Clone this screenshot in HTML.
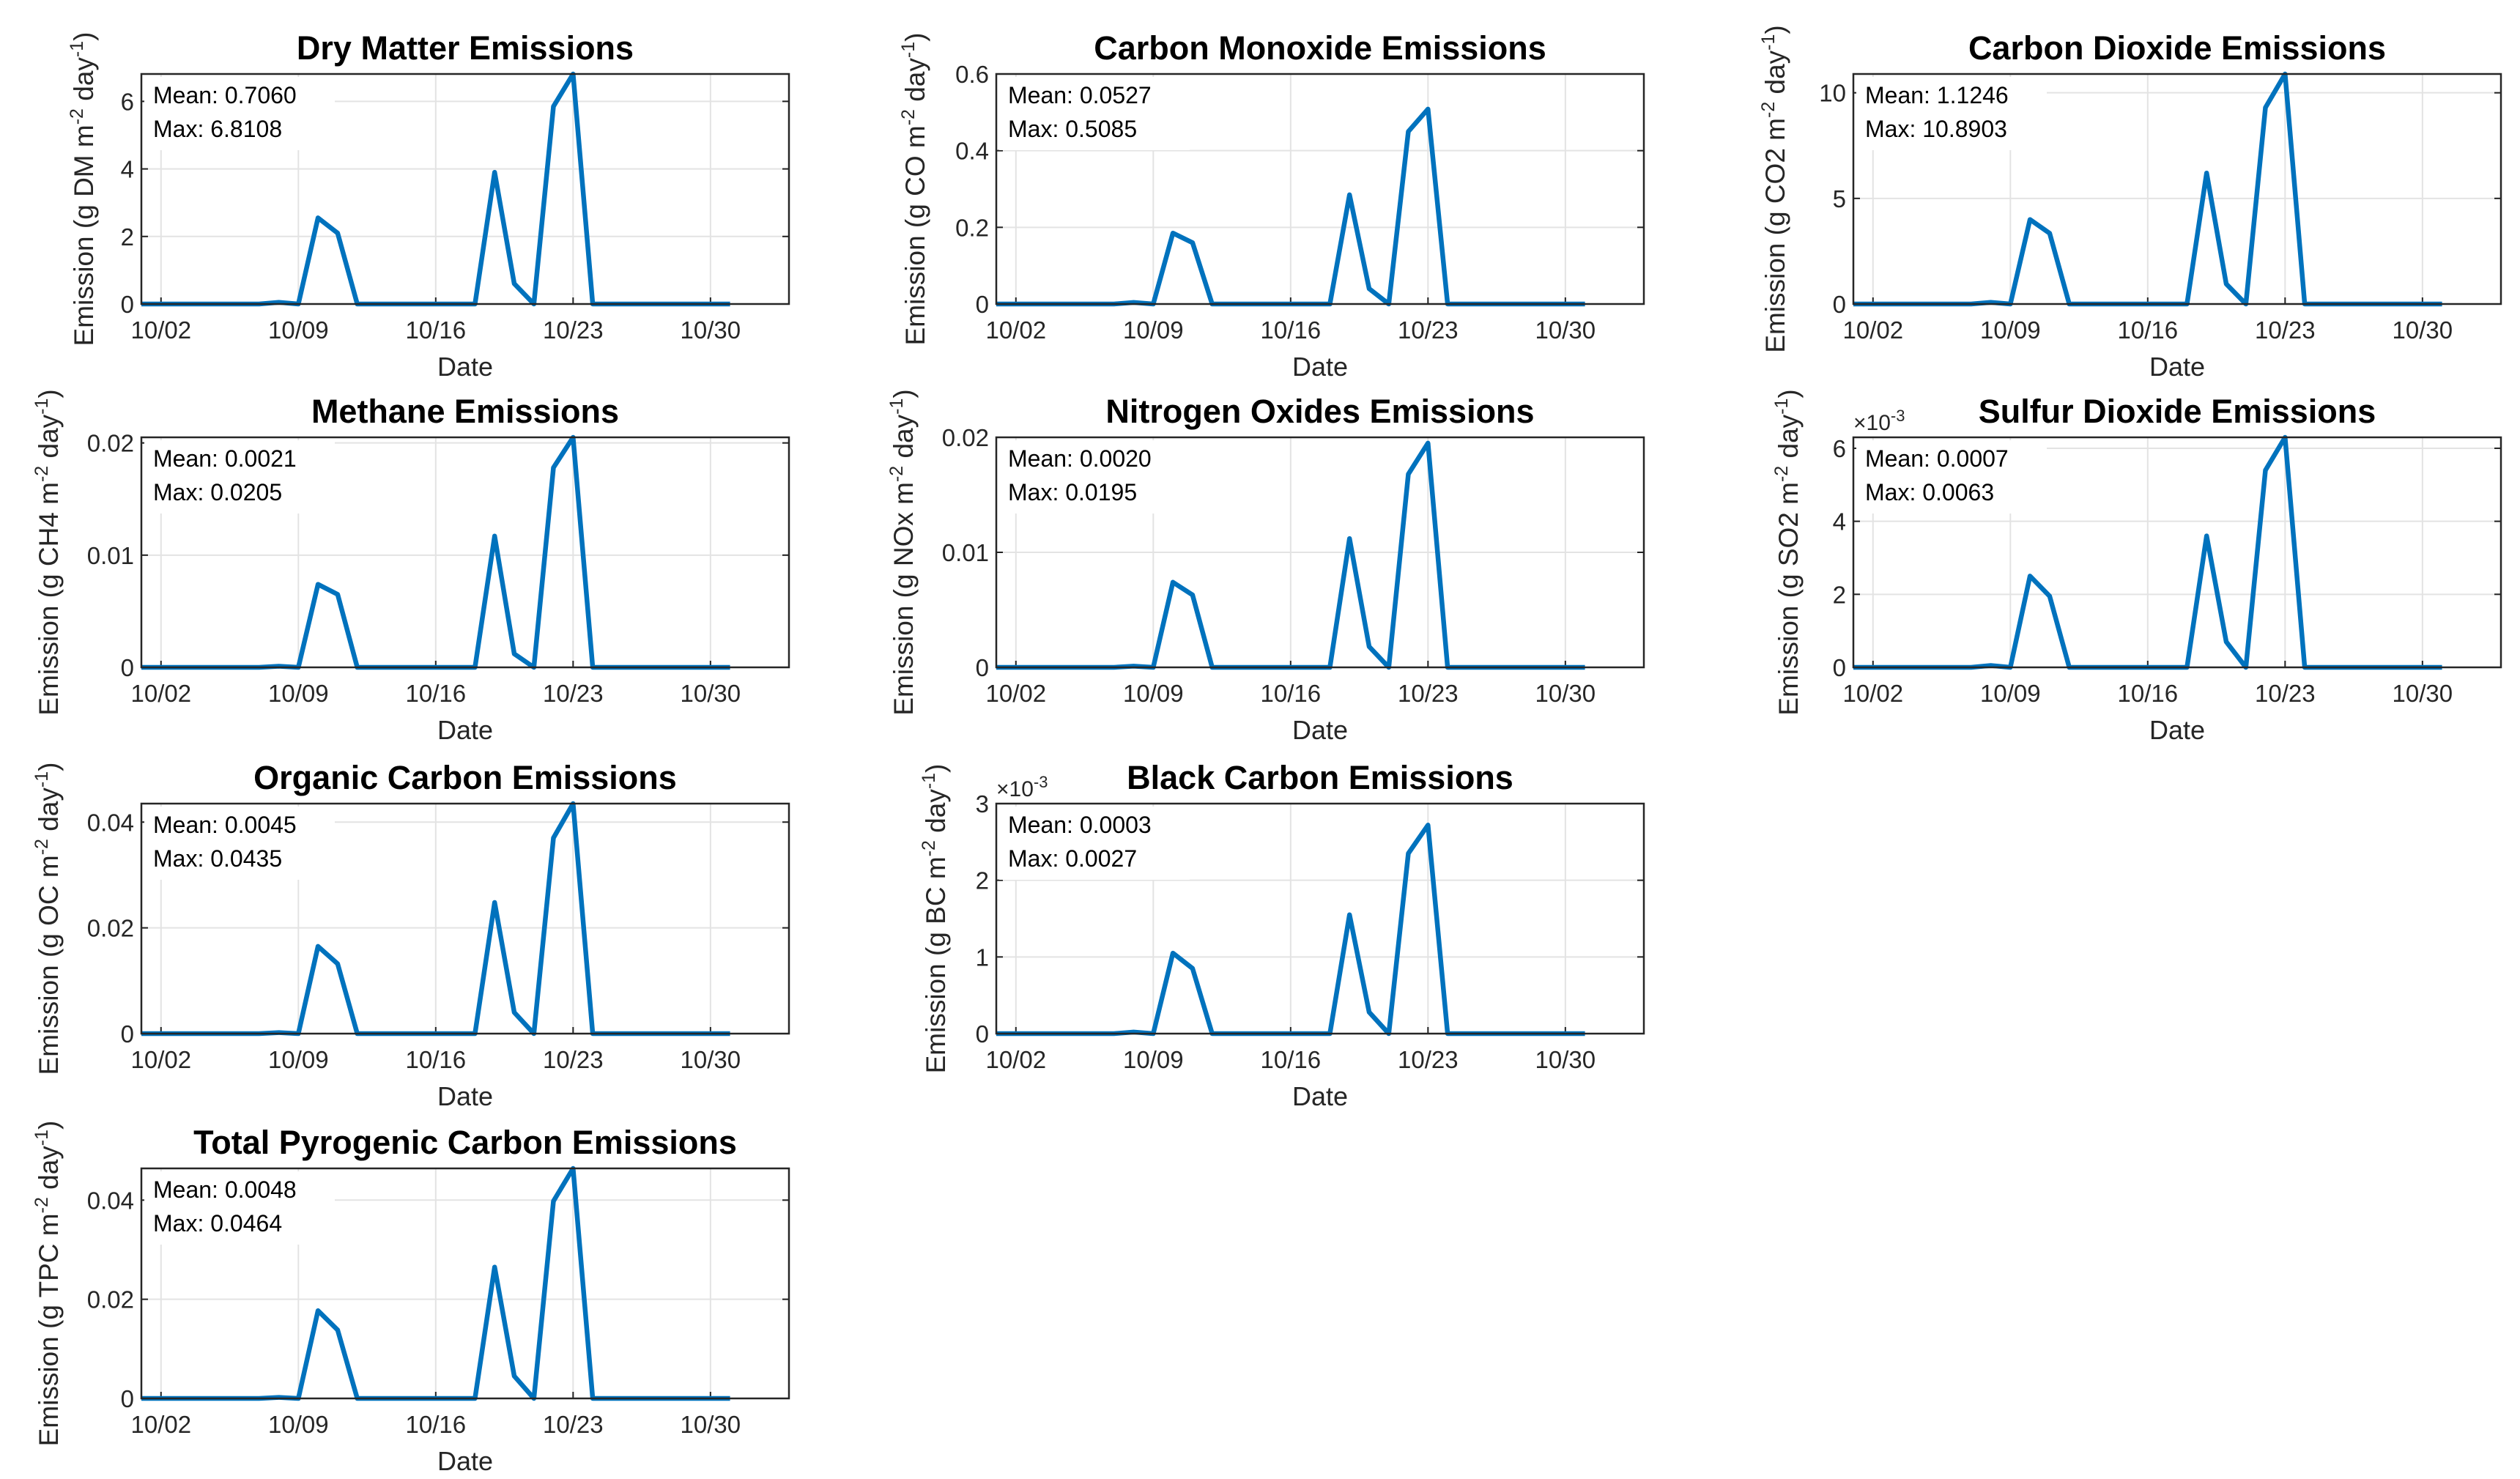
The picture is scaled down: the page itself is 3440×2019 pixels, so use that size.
<!DOCTYPE html>
<html><head><meta charset="utf-8"><style>
html,body{margin:0;padding:0;background:#fff;}
svg{display:block;font-family:"Liberation Sans",Arial,sans-serif;}
</style></head><body>
<svg id="fig" width="3440" height="2019" viewBox="0 0 3440 2019" xmlns="http://www.w3.org/2000/svg"></svg>
<script>
// ---- data (daily values Oct 1 .. Oct 31) ----
const days = Array.from({length:31},(_,i)=>i+1);
const xTickDays = [2,9,16,23,30];
const xTickLabels = ["10/02","10/09","10/16","10/23","10/30"];
const titles = ["Dry Matter Emissions","Carbon Monoxide Emissions","Carbon Dioxide Emissions","Methane Emissions","Nitrogen Oxides Emissions","Sulfur Dioxide Emissions","Organic Carbon Emissions","Black Carbon Emissions","Total Pyrogenic Carbon Emissions"];
const species = ["DM","CO","CO2","CH4","NOx","SO2","OC","BC","TPC"];
const meanLabels = ["0.7060","0.0527","1.1246","0.0021","0.0020","0.0007","0.0045","0.0003","0.0048"];
const maxLabels = ["6.8108","0.5085","10.8903","0.0205","0.0195","0.0063","0.0435","0.0027","0.0464"];
const z6=[0,0,0,0,0,0,0];
const dmVals  = [...z6,0.05,0,2.55,2.1,0,0,0,0,0,0,0,3.9,0.6,0,5.85,6.81,0,0,0,0,0,0,0,0];
const coVals  = [...z6,0.004,0,0.185,0.16,0,0,0,0,0,0,0,0.285,0.04,0,0.45,0.5085,0,0,0,0,0,0,0,0];
const co2Vals = [...z6,0.08,0,4.0,3.35,0,0,0,0,0,0,0,6.2,0.95,0,9.3,10.89,0,0,0,0,0,0,0,0];
const ch4Vals = [...z6,0.0001,0,0.0074,0.0065,0,0,0,0,0,0,0,0.0117,0.0012,0,0.0178,0.0205,0,0,0,0,0,0,0,0];
const noxVals = [...z6,0.0001,0,0.0074,0.0063,0,0,0,0,0,0,0,0.0112,0.0018,0,0.0168,0.0195,0,0,0,0,0,0,0,0];
const so2Vals = [...z6,0.05,0,2.5,1.95,0,0,0,0,0,0,0,3.6,0.7,0,5.4,6.3,0,0,0,0,0,0,0,0];
const ocVals  = [...z6,0.0002,0,0.0165,0.0132,0,0,0,0,0,0,0,0.0248,0.004,0,0.037,0.0435,0,0,0,0,0,0,0,0];
const bcVals  = [...z6,0.02,0,1.05,0.85,0,0,0,0,0,0,0,1.55,0.28,0,2.35,2.72,0,0,0,0,0,0,0,0];
const tpcVals = [...z6,0.0002,0,0.0177,0.0138,0,0,0,0,0,0,0,0.0265,0.0045,0,0.0398,0.0464,0,0,0,0,0,0,0,0];
const series = [dmVals,coVals,co2Vals,ch4Vals,noxVals,so2Vals,ocVals,bcVals,tpcVals];
const yMax = [6.8108,0.6,10.8903,0.0205,0.02,6.3,0.0435,3,0.0464];
const yTicks = [[0,2,4,6],[0,0.2,0.4,0.6],[0,5,10],[0,0.01,0.02],[0,0.01,0.02],[0,2,4,6],[0,0.02,0.04],[0,1,2,3],[0,0.02,0.04]];
const yTickLabels = [["0","2","4","6"],["0","0.2","0.4","0.6"],["0","5","10"],["0","0.01","0.02"],["0","0.01","0.02"],["0","2","4","6"],["0","0.02","0.04"],["0","1","2","3"],["0","0.02","0.04"]];
const exponent = [null,null,null,null,null,"-3",null,"-3",null];

// ---- layout ----
const colX=[193,1360,2530], AW=884, AH=314;
const rowY=[101,597,1097,1595];
const gridPos=[[0,0],[1,0],[2,0],[0,1],[1,1],[2,1],[0,2],[1,2],[0,3]];
const yLabOff=[66,98,94,114,114,76,114,70,114];
const NS="http://www.w3.org/2000/svg";
const svg=document.getElementById('fig');
function el(tag,attrs,parent){const e=document.createElementNS(NS,tag);for(const k in attrs)e.setAttribute(k,attrs[k]);(parent||svg).appendChild(e);return e;}

series.forEach((vals,i)=>{
  const x0=colX[gridPos[i][0]], y0=rowY[gridPos[i][1]];
  const g=el('g',{});
  
  
  const xs=d=>x0+(d-1)/33*AW;
  const ys=v=>y0+AH-v/yMax[i]*AH;
  el('rect',{x:x0,y:y0,width:AW,height:AH,fill:'#fff'},g);
  xTickDays.forEach((d,k)=>{
    const gl=el('line',{x1:xs(d),x2:xs(d),y1:y0,y2:y0+AH,stroke:'#e3e3e3','stroke-width':2},g);
    
    
    el('line',{x1:xs(d),x2:xs(d),y1:y0+AH,y2:y0+AH-9,stroke:'#222','stroke-width':2},g);
    const t=el('text',{x:xs(d),y:y0+AH+47,'font-size':33,'text-anchor':'middle',fill:'#262626'},g);
    t.textContent=xTickLabels[k];
    
    
  });
  yTicks[i].forEach((v,k)=>{
    const gl=el('line',{x1:x0,x2:x0+AW,y1:ys(v),y2:ys(v),stroke:'#e3e3e3','stroke-width':2},g);
    
    
    el('line',{x1:x0,x2:x0+9,y1:ys(v),y2:ys(v),stroke:'#222','stroke-width':2},g);
    el('line',{x1:x0+AW,x2:x0+AW-9,y1:ys(v),y2:ys(v),stroke:'#222','stroke-width':2},g);
    const t=el('text',{x:x0-10,y:ys(v)+12,'font-size':33,'text-anchor':'end',fill:'#262626'},g);
    t.textContent=yTickLabels[i][k];
    
    
  });
  el('rect',{x:x0+4,y:y0+4,width:260,height:100,fill:'#fff'},g);
  const m=el('text',{x:x0+16,y:y0+40,'font-size':32,fill:'#000'},g);
  m.textContent='Mean: '+meanLabels[i];
  
  
  const mx=el('text',{x:x0+16,y:y0+86,'font-size':32,fill:'#000'},g);
  mx.textContent='Max: '+maxLabels[i];
  
  
  const pts=vals.map((v,k)=>xs(days[k]).toFixed(1)+','+ys(v).toFixed(1)).join(' ');
  const pl=el('polyline',{points:pts,fill:'none',stroke:'#0072BD','stroke-width':6.5,'stroke-linejoin':'round'},g);
  
  
  el('rect',{x:x0,y:y0,width:AW,height:AH,fill:'none',stroke:'#262626','stroke-width':2.5},g);
  const tt=el('text',{x:x0+AW/2,y:y0-20,'font-size':45,'font-weight':'bold','text-anchor':'middle',fill:'#000'},g);
  tt.textContent=titles[i];
  
  
  const xl=el('text',{x:x0+AW/2,y:y0+AH+98,'font-size':36,'text-anchor':'middle',fill:'#262626'},g);
  xl.textContent='Date';
  
  
  const lx=x0-yLabOff[i], ly=y0+AH/2;
  const yl=el('text',{x:lx,y:ly,'font-size':37,'text-anchor':'middle',fill:'#262626',transform:`rotate(-90 ${lx} ${ly})`},g);
  yl.innerHTML=`Emission (g ${species[i]} m<tspan dy="-14" font-size="25">-2</tspan><tspan dy="14"> day</tspan><tspan dy="-14" font-size="25">-1</tspan><tspan dy="14">)</tspan>`;
  
  
  if(exponent[i]){
    const ex=el('text',{x:x0,y:y0-10,'font-size':30,fill:'#262626'},g);
    ex.innerHTML=`×10<tspan dy="-12" font-size="22">${exponent[i]}</tspan>`;
    
    
  }
});
</script>
</body></html>
